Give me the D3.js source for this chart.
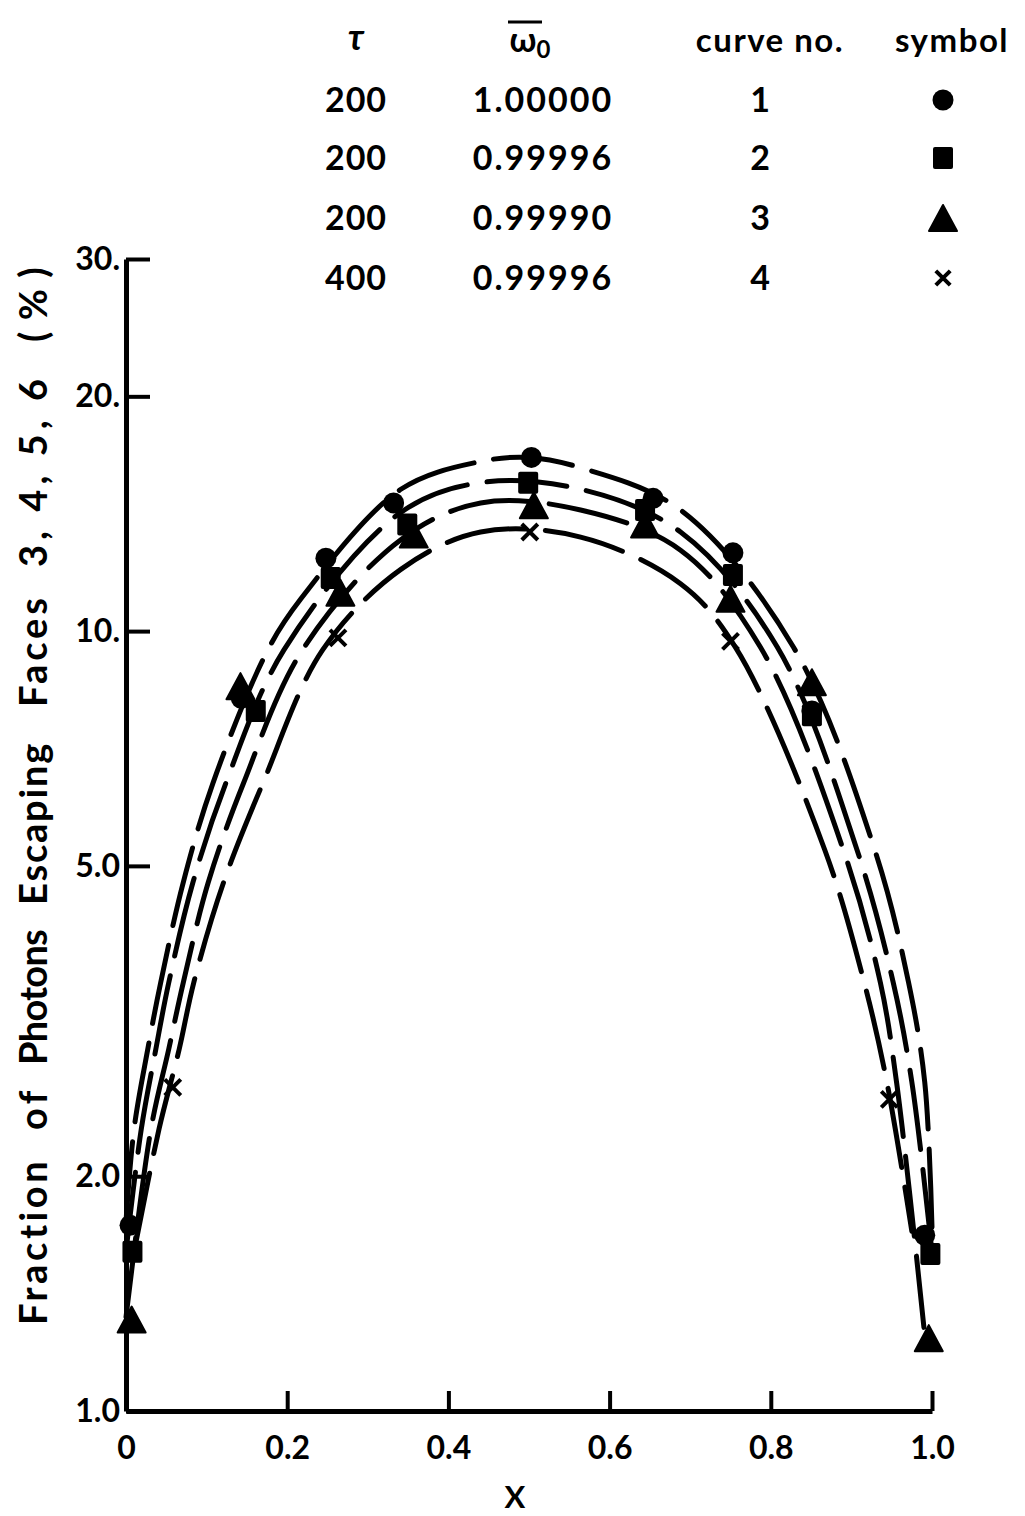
<!DOCTYPE html>
<meta charset="utf-8">
<script src="https://d3js.org/d3.v7.min.js"></script>
<style>
	body{
		margin:0;
		background:#fff;
	}
	svg text{
		font-family:'Lato', sans-serif;
		font-weight:700;
		fill:#000;
	}
</style>
<div id="chart"></div>
<script>

// legend table
var tauVals = ["200","200","200","400"]
var omegaVals = ["1.00000","0.99996","0.99990","0.99996"]
var curveNos = ["1","2","3","4"]
var symbols = ["circle","square","triangle","cross"]

// axes
var yTicks = [1,2,5,10,20,30]
var yTickLabels = ["1.0","2.0","5.0","10.","20.","30."]
var xTicks = [0,0.2,0.4,0.6,0.8,1.0]
var xTickLabels = ["0","0.2","0.4","0.6","0.8","1.0"]
var yTitleParts = ["Fraction","of","Photons","Escaping","Faces","3, 4, 5, 6","(%)"]
// where each word of the y title starts (page y, read upward) and how long it runs
var yTitleStarts = [1325,1130,1065,905,707,567,342]
var yTitleLens = [168,44,135,163,113,193,86]

// plotted points (x, percent) for each curve
var pts1 = [[0.005,1.73],[0.143,8.2],[0.248,12.4],[0.332,14.6],[0.503,16.7],[0.654,14.8],[0.753,12.6],[0.851,7.9],[0.991,1.68]]
var pts2 = [[0.008,1.60],[0.161,7.9],[0.254,11.7],[0.349,13.7],[0.499,15.5],[0.644,14.3],[0.753,11.8],[0.851,7.8],[0.998,1.59]]
var pts3 = [[0.007,1.31],[0.142,8.5],[0.266,11.2],[0.357,13.3],[0.506,14.5],[0.644,13.7],[0.750,11.0],[0.851,8.6],[0.996,1.24]]
var pts4 = [[0.058,2.60],[0.263,9.8],[0.501,13.4],[0.750,9.7],[0.947,2.51]]

// dashed curves (x, percent)
var curve1 = [[0.0,1.75],[0.010,2.30],[0.027,2.91],[0.043,3.54],[0.071,4.76],[0.108,6.39],[0.176,9.46],[0.217,11.0],[0.341,15.2],[0.44,16.5],[0.50,16.7],[0.564,16.2],[0.688,14.3],[0.828,9.54],[0.929,5.24],[0.971,3.54],[0.991,2.64],[1.0,1.72]]
var curve2 = [[0.0,1.60],[0.019,2.30],[0.037,2.91],[0.053,3.54],[0.083,4.76],[0.124,6.39],[0.196,9.46],[0.341,14.2],[0.44,15.5],[0.564,15.2],[0.688,13.4],[0.808,9.54],[0.907,5.24],[0.952,3.54],[0.975,2.64],[1.0,1.60]]
var curve3 = [[0.0,1.32],[0.031,2.30],[0.053,2.91],[0.071,3.54],[0.102,4.76],[0.146,6.39],[0.219,9.46],[0.341,13.1],[0.44,14.6],[0.564,14.3],[0.688,12.7],[0.787,9.54],[0.890,5.24],[0.936,3.54],[0.956,2.64],[0.99,1.28]]
var curve4 = [[0.010,1.60],[0.041,2.30],[0.066,2.91],[0.084,3.54],[0.121,4.76],[0.170,6.39],[0.244,9.46],[0.341,12.0],[0.44,13.4],[0.564,13.2],[0.688,11.5],[0.756,9.54],[0.867,5.24],[0.916,3.54],[0.944,2.64],[0.975,1.70]]

var W = 1025, H = 1516
var svg = d3.select("#chart").append("svg").attr("width",W).attr("height",H)
svg.append("rect").attr("width",W).attr("height",H).attr("fill","#fff")

var x = d3.scaleLinear().domain([0,1]).range([126,932])
var y = d3.scaleLog().domain([1,30]).range([1411,259])

// y axis
var yAxis = d3.axisLeft(y)
	.tickValues(yTicks)
	.tickFormat(function(d,i){ return yTickLabels[i] })
	.tickSizeInner(-24)
	.tickSizeOuter(0)
	.tickPadding(6)
var gy = svg.append("g").attr("transform","translate("+x(0)+",0)").call(yAxis)

// x axis
var xAxis = d3.axisBottom(x)
	.tickValues(xTicks)
	.tickFormat(function(d,i){ return xTickLabels[i] })
	.tickSizeInner(-20)
	.tickSizeOuter(0)
	.tickPadding(25)
var gx = svg.append("g").attr("transform","translate(0,"+y(1)+")").call(xAxis)

svg.selectAll(".domain").attr("stroke","#000").attr("stroke-width",5)
svg.selectAll(".tick line").attr("stroke","#000").attr("stroke-width",4)
svg.selectAll(".tick text").style("font-size","32px").style("font-family","Lato, sans-serif").style("font-weight","700")

// axis titles
svg.append("text").text("X")
	.attr("x",515).attr("y",1508)
	.attr("text-anchor","middle")
	.style("font-size","31px")

// y title: each word placed and stretched like the lettering in the print
var ylab = svg.append("text")
	.attr("transform","translate(47,0) rotate(-90)")
	.attr("text-anchor","start")
	.style("font-size","38px")
yTitleParts.forEach(function(p,i){
	var ts = ylab.append("tspan").text(p).attr("x",-yTitleStarts[i])
	var w = ts.node().getComputedTextLength()
	ts.style("letter-spacing",((yTitleLens[i]-w)/p.length)+"px")
})

// dashed curves
var line = d3.line()
	.x(function(d){ return x(d[0]) })
	.y(function(d){ return y(d[1]) })
	.curve(d3.curveCatmullRom.alpha(0.5))

var curves = [curve1,curve2,curve3,curve4]
svg.append("g").selectAll("path")
	.data(curves)
	.join("path")
	.attr("d",line)
	.attr("fill","none")
	.attr("stroke","#000")
	.attr("stroke-width",5)
	.attr("stroke-linecap","round")
	.attr("stroke-dasharray","80,20")

// markers
function drawSymbol(g,type,cx,cy,scale){
	var s = scale||1
	if(type=="circle"){
		g.append("circle").attr("cx",cx).attr("cy",cy).attr("r",10.5*s).attr("fill","#000")
	}else if(type=="square"){
		g.append("rect").attr("x",cx-10*s).attr("y",cy-11*s).attr("width",20*s).attr("height",22*s).attr("rx",2).attr("fill","#000")
	}else if(type=="triangle"){
		var hw = 14*s, hh = 13*s
		g.append("path").attr("d","M"+cx+","+(cy-hh)+"L"+(cx+hw)+","+(cy+hh)+"L"+(cx-hw)+","+(cy+hh)+"Z")
			.attr("fill","#000").attr("stroke","#000").attr("stroke-width",2).attr("stroke-linejoin","round")
	}else{
		var r = 8*s
		g.append("path").attr("d","M"+(cx-r)+","+(cy-r)+"L"+(cx+r)+","+(cy+r)+"M"+(cx+r)+","+(cy-r)+"L"+(cx-r)+","+(cy+r))
			.attr("stroke","#000").attr("stroke-width",4).attr("fill","none")
	}
}

var ptSets = [pts1,pts2,pts3,pts4]
var mg = svg.append("g")
ptSets.forEach(function(set,i){
	set.forEach(function(p){
		drawSymbol(mg,symbols[i],x(p[0]),y(p[1]))
	})
})

// legend table
var lg = svg.append("g")
var colTau = 356, colOmega = 543, colCurve = 760, colSym = 943
var headY = 52
lg.append("text").text("τ").attr("x",colTau).attr("y",headY-2).attr("text-anchor","middle").style("font-size","36px").style("font-style","italic")
var om = lg.append("text").attr("x",530).attr("y",headY).attr("text-anchor","middle").style("font-size","34px")
om.append("tspan").text("ω")
om.append("tspan").text("0").attr("dy",6).style("font-size","24px")
lg.append("line").attr("x1",508).attr("x2",542).attr("y1",22).attr("y2",22).attr("stroke","#000").attr("stroke-width",3)
lg.append("text").text("curve  no.").attr("x",770).attr("y",headY).attr("text-anchor","middle").style("font-size","33px").style("letter-spacing","1.5px")
lg.append("text").text("symbol").attr("x",952).attr("y",headY).attr("text-anchor","middle").style("font-size","33px").style("letter-spacing","1.5px")

var rowY = [112,170,230,290]
tauVals.forEach(function(t,i){
	lg.append("text").text(t).attr("x",colTau).attr("y",rowY[i]).attr("text-anchor","middle").style("font-size","34px").style("letter-spacing","1px")
	lg.append("text").text(omegaVals[i]).attr("x",colOmega).attr("y",rowY[i]).attr("text-anchor","middle").style("font-size","34px").style("letter-spacing","2px")
	lg.append("text").text(curveNos[i]).attr("x",colCurve).attr("y",rowY[i]).attr("text-anchor","middle").style("font-size","34px")
	drawSymbol(lg,symbols[i],colSym,rowY[i]-12,symbols[i]=="cross"?0.9:1)
})

</script>
